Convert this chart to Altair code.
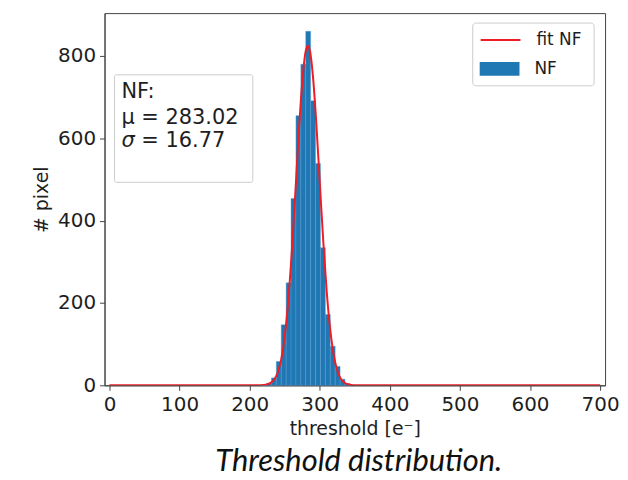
import altair as alt
import pandas as pd

# Histogram of thresholds (bin width 7 e-)
bin_start = [217, 224, 231, 238, 245, 252, 259, 266, 273, 280, 287, 294, 301, 308, 315, 322, 329, 336]
counts = [1, 5, 18, 58, 147, 249, 454, 655, 780, 860, 691, 539, 334, 172, 95, 46, 15, 4]
bin_width = 7

# Fitted curve
fit_x = [0, 200, 210, 220, 225, 230, 235, 240, 245, 250, 255, 260, 265, 270, 275, 280, 283,
         286, 290, 295, 300, 305, 310, 315, 320, 325, 330, 335, 340, 345, 350, 360, 700]
fit_y = [0, 0, 0, 0.7, 2, 6, 14, 31, 63, 119, 204, 322, 463, 611, 736, 812, 825,
         812, 756, 639, 493, 350, 226, 134, 73, 36, 16, 7, 2.5, 1, 0.3, 0, 0]

x_ticks = [0, 100, 200, 300, 400, 500, 600, 700]
y_ticks = [0, 200, 400, 600, 800]

stats_title = "NF:"
stats_mu = "μ = 283.02"
stats_sigma_sym = "σ"
stats_sigma_val = "= 16.77"

hist = pd.DataFrame({
    "start": bin_start,
    "end": [s + bin_width for s in bin_start],
    "count": counts,
    "s": ["NF"] * len(bin_start),
})
fit = pd.DataFrame({"x": fit_x, "y": fit_y, "s": ["fit NF"] * len(fit_x)})
one = pd.DataFrame({"a": [0]})

FONT = "DejaVu Sans"
TXT = "#1e1e1e"

xscale = alt.Scale(domain=[0, 700], nice=False, zero=False)
yscale = alt.Scale(domain=[0, 904], nice=False)

xaxis = alt.Axis(values=x_ticks, title="threshold [e⁻]", grid=False, format="d",
                 labelPadding=4, titlePadding=5)
yaxis = alt.Axis(values=y_ticks, title="# pixel", grid=False, format="d",
                 labelPadding=4, titlePadding=6)

bars = alt.Chart(hist).mark_bar(stroke="#5b9bd0", strokeWidth=0.4, orient="vertical").encode(
    x=alt.X("start:Q", scale=xscale, axis=xaxis),
    x2="end:Q",
    y=alt.Y("count:Q", scale=yscale, axis=yaxis),
    y2=alt.datum(0),
    fill=alt.Fill("s:N", scale=alt.Scale(domain=["NF"], range=["#1f77b4"]),
                  legend=alt.Legend(title=None, orient="none", legendX=377, legendY=36,
                                    symbolType="M-1,-0.35L1,-0.35L1,0.35L-1,0.35Z",
                                    symbolSize=1600, symbolStrokeWidth=0,
                                    labelFont=FONT, labelFontSize=17, labelColor=TXT,
                                    labelOffset=15, padding=0)),
)

line = alt.Chart(fit).mark_line(strokeWidth=2, interpolate="monotone", clip=True).encode(
    x=alt.X("x:Q", scale=xscale),
    y=alt.Y("y:Q", scale=yscale),
    stroke=alt.Stroke("s:N", scale=alt.Scale(domain=["fit NF"], range=["#ee1c24"]),
                      legend=alt.Legend(title=None, orient="none", legendX=377, legendY=6,
                                        symbolType="stroke", symbolSize=1600,
                                        symbolStrokeWidth=2,
                                        labelFont=FONT, labelFontSize=17, labelColor=TXT,
                                        labelOffset=15, padding=0)),
)

legend_box = alt.Chart(one).mark_rect(fill="white", stroke="#cccccc", strokeWidth=1,
                                      cornerRadius=3).encode(
    x=alt.value(370), x2=alt.value(492), y=alt.value(10), y2=alt.value(73))

stats_box = alt.Chart(one).mark_rect(fill="white", stroke="#cccccc", strokeWidth=1,
                                     cornerRadius=2).encode(
    x=alt.value(10), x2=alt.value(149), y=alt.value(62), y2=alt.value(170))

def txt(s, x, y, style="normal"):
    return alt.Chart(one).mark_text(align="left", baseline="alphabetic", font=FONT,
                                    fontSize=21, color=TXT, fontStyle=style).encode(
        x=alt.value(x), y=alt.value(y), text=alt.value(s))

stats = (txt(stats_title, 17, 85) + txt(stats_mu, 17, 111) +
         txt(stats_sigma_sym, 17, 135, "italic") + txt(stats_sigma_val, 37, 135))

chart = alt.layer(legend_box, stats_box, bars, line, stats).properties(
    width=503, height=374,
    autosize=alt.AutoSizeParams(type="none"),
    padding={"left": 97, "top": 4, "right": 15, "bottom": 92},
    title=alt.TitleParams("Threshold distribution.", orient="bottom", anchor="middle",
                          font="Lato", fontStyle="italic", fontWeight="normal",
                          fontSize=31, color="#111111", offset=9, dx=4),
).configure_view(stroke="#444444", strokeWidth=1).configure_axis(
    domainColor="#444444", tickColor="#444444", tickSize=5,
    labelFont=FONT, labelFontSize=20, labelColor=TXT,
    titleFont=FONT, titleFontSize=19, titleFontWeight="normal", titleColor=TXT,
)

chart.save("out.html", embed_options={"renderer": "svg", "actions": False})
